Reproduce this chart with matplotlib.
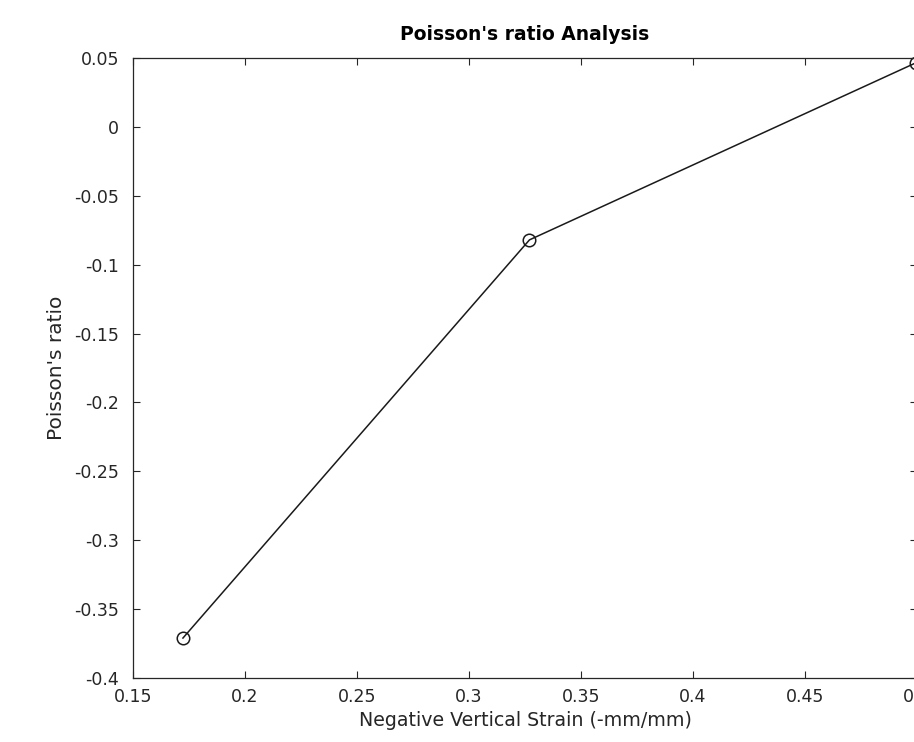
import matplotlib.pyplot as plt

# Data
strain = [0.1723, 0.3270, 0.4995]
poisson = [-0.371, -0.082, 0.0465]

xticks = [0.15, 0.2, 0.25, 0.3, 0.35, 0.4, 0.45, 0.5]
yticks = [0.05, 0, -0.05, -0.1, -0.15, -0.2, -0.25, -0.3, -0.35, -0.4]

plt.rcParams['font.family'] = ['DejaVu Sans']

fig = plt.figure(figsize=(9.14, 7.42), dpi=100)
W, H = 914, 742
# axes runs past the right edge of the figure (the original is cropped there)
ax = fig.add_axes([133 / W, (H - 678) / H, (917 - 133) / W, 620 / H])

ax.plot(strain, poisson, color='#1a1a1a', linewidth=1.1, marker='o',
        markersize=9, markerfacecolor='none', markeredgecolor='#1a1a1a',
        markeredgewidth=1.1, clip_on=False)

ax.set_xlim(0.15, 0.5)
ax.set_ylim(-0.4, 0.05)
ax.set_xticks(xticks)
ax.set_yticks(yticks)
ax.set_xticklabels([f"{v:g}" for v in xticks])
ax.set_yticklabels([f"{v:g}" for v in yticks])

ax.tick_params(direction='in', length=5, width=0.8, colors='#262626',
               labelsize=12.5, top=True, right=True)
ax.tick_params(axis='y', pad=10)
ax.tick_params(axis='x', pad=7)
for s in ax.spines.values():
    s.set_color('#262626')
    s.set_linewidth(0.9)

ax.set_xlabel('Negative Vertical Strain (-mm/mm)', fontsize=13.7, color='#262626', labelpad=4)
ax.set_ylabel("Poisson's ratio", fontsize=14.5, color='#262626', labelpad=6)
ax.set_title("Poisson's ratio Analysis", fontsize=13.5, fontweight='bold', pad=13)

fig.savefig('out.png', dpi=100)
